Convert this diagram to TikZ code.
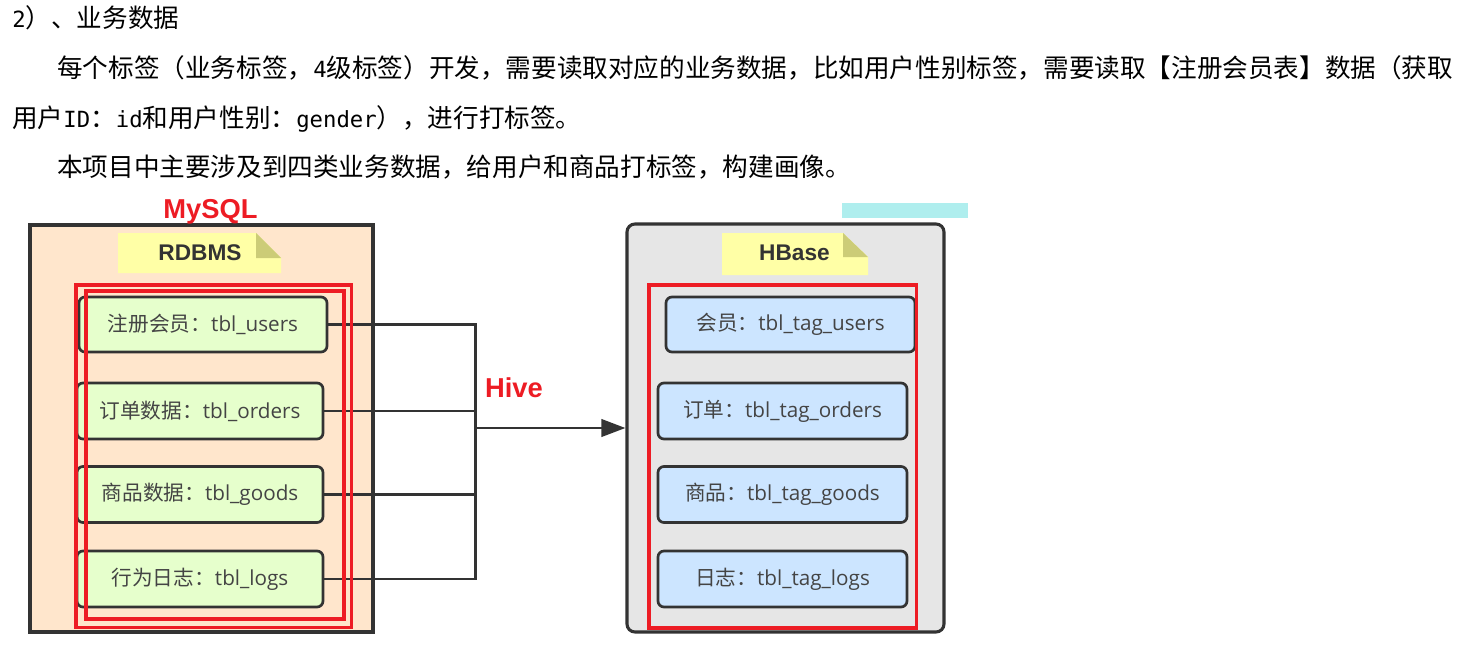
\documentclass[tikz,border=0pt]{standalone}
\usepackage{fontspec}
\setmainfont{Noto Sans CJK SC}
\newfontfamily\cjk{Noto Sans CJK SC}
\newfontfamily\monof[Scale=0.87]{DejaVu Sans Mono}
\newfontfamily\latf{Open Sans}
\newfontfamily\labf{Liberation Sans}
\usetikzlibrary{arrows.meta}
\definecolor{lineC}{HTML}{333333}
\definecolor{txtC}{HTML}{444444}
\definecolor{peachF}{HTML}{FFE6CC}
\definecolor{grayF}{HTML}{E6E6E6}
\definecolor{greenF}{HTML}{E6FFCC}
\definecolor{blueF}{HTML}{CCE5FF}
\definecolor{noteF}{HTML}{FFFFA6}
\definecolor{foldF}{HTML}{CCCC77}
\definecolor{redC}{HTML}{ED1C24}
\definecolor{cyanF}{HTML}{AFEEEE}
\newcommand{\mo}[1]{{\monof #1}}
\newcommand{\bt}[2]{{\cjk #1}{\latf #2}}
\tikzset{
  para/.style={anchor=base west, inner sep=0pt, font=\cjk\fontsize{19.2}{22}\selectfont, text=black},
  leftc/.style={draw=lineC, line width=2.3pt, fill=peachF, minimum width=257.25pt, minimum height=305.25pt, inner sep=0pt},
  rightc/.style={draw=lineC, line width=2.3pt, fill=grayF, rounded corners=6pt, minimum width=237.75pt, minimum height=306pt, inner sep=0pt},
  tbox/.style={draw=lineC, line width=2pt, rounded corners=4.5pt, text=txtC, font=\fontsize{15.5}{18}\selectfont, minimum height=42pt, inner sep=0pt},
  gbox/.style={tbox, fill=greenF, minimum width=184.5pt},
  bbox/.style={tbox, fill=blueF, minimum width=186.75pt},
  notelbl/.style={font=\labf\bfseries\fontsize{17}{20}\selectfont, text=lineC, inner sep=0pt},
  redlbl/.style={font=\labf\bfseries\fontsize{20.5}{24}\selectfont, text=redC, inner sep=0pt},
  conn/.style={draw=lineC, line width=2.1pt, line join=miter},
  redbox/.style={draw=redC, line width=2.5pt},
}
\begin{document}
\begin{tikzpicture}[x=0.75pt, y=-0.75pt]
\useasboundingbox (0,0) rectangle (1464,653);
% paragraph text
\node[para] (t1) at (12,27) {\mo{2}）、业务数据};
\node[para] (t2) at (57,77) {每个标签（业务标签，\mo{4}级标签）开发，需要读取对应的业务数据，比如用户性别标签，需要读取【注册会员表】数据（获取};
\node[para] (t3) at (12,127) {用户\mo{ID}：\mo{id}和用户性别：\mo{gender}），进行打标签。};
\node[para] (t4) at (57,176) {本项目中主要涉及到四类业务数据，给用户和商品打标签，构建画像。};
% cyan strip
\fill[cyanF] (842,203) rectangle (968,218);
% containers
\node[leftc] (rdbms) at (201.5,428.5) {};
\node[rightc] (hbase) at (785.5,428) {};
% notes
\fill[noteF] (118,233) -- (256,233) -- (281,258) -- (281,273) -- (118,273) -- cycle;
\fill[foldF] (256,233) -- (256,258) -- (281,258) -- cycle;
\node[notelbl] (rdbmslbl) at (200,253) {RDBMS};
\fill[noteF] (722,233) -- (843,233) -- (868,257) -- (868,275) -- (722,275) -- cycle;
\fill[foldF] (843,233) -- (843,257) -- (868,257) -- cycle;
\node[notelbl] (hbaselbl) at (794.5,253) {HBase};
% left boxes
\node[gbox, minimum width=186pt, minimum height=41.25pt] (u1) at (203,324.5) {\bt{注册会员：}{tbl\_users}};
\node[gbox] (u2) at (200,411) {\bt{订单数据：}{tbl\_orders}};
\node[gbox] (u3) at (200,494.5) {\bt{商品数据：}{tbl\_goods}};
\node[gbox] (u4) at (200,579) {\bt{行为日志：}{tbl\_logs}};
% right boxes
\node[bbox, minimum height=41.25pt] (h1) at (790.5,324.5) {\bt{会员：}{tbl\_tag\_users}};
\node[bbox] (h2) at (782.5,411) {\bt{订单：}{tbl\_tag\_orders}};
\node[bbox] (h3) at (782.5,494.5) {\bt{商品：}{tbl\_tag\_goods}};
\node[bbox] (h4) at (782.5,579) {\bt{日志：}{tbl\_tag\_logs}};
% connectors
\coordinate (bus) at (475.5,428);
\draw[conn] (u1.east) -| (bus);
\draw[conn] (u2.east) -| (bus);
\draw[conn] (u3.east) -| (bus);
\draw[conn] (u4.east) -| (bus);
\draw[conn, -{Triangle[length=18pt, width=13pt]}] (bus) -- (hbase.west);
% red annotation boxes
\draw[redbox] (76,285) rectangle (351.5,627.5);
\draw[redbox] (86,291) rectangle (344,619);
\draw[redbox] (649,285) rectangle (916.5,628);
% red labels
\node[redlbl] (mysql) at (210.5,212) {MySQL};
\node[redlbl] (hive) at (514,388) {Hive};
\end{tikzpicture}
\end{document}
